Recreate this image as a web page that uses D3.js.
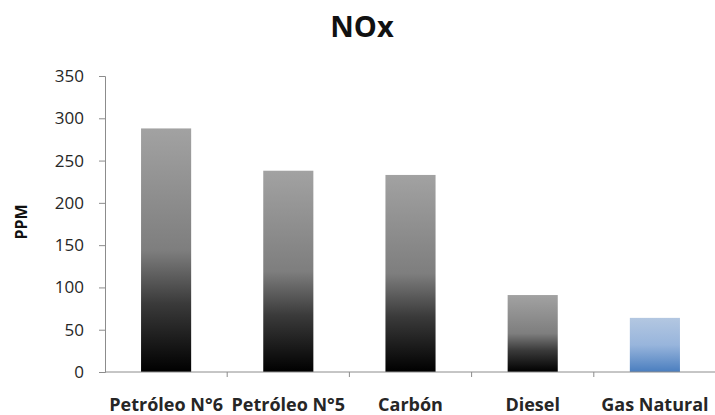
<!DOCTYPE html>
<html>
<head>
<meta charset="utf-8">
<script src="https://cdn.jsdelivr.net/npm/d3@7"></script>
<style>
  html, body { margin: 0; padding: 0; background: #fff; }
  svg { display: block; }
  text { font-family: "Open Sans", Lato, sans-serif; }
</style>
</head>
<body>
<svg id="chart" width="715" height="415"></svg>
<script>
// NOx emissions by fuel type (PPM)
const categories = ["Petróleo N°6", "Petróleo N°5", "Carbón", "Diesel", "Gas Natural"];
const values = [288, 238, 233, 91, 64];
const yTicks = [0, 50, 100, 150, 200, 250, 300, 350];
const chartTitle = "NOx";
const yTitle = "PPM";

const svg = d3.select("#chart");
const margin = { left: 105, right: 0, top: 76, bottom: 43 };
const W = 715, H = 415;

const x = d3.scaleBand().domain(categories).range([margin.left, 716]).paddingInner(0.59).paddingOuter(0.295);
const y = d3.scaleLinear().domain([0, 350]).range([H - margin.bottom, margin.top]);

// Gradients: gray-to-black for the oil/coal/diesel bars, blue for natural gas
const defs = svg.append("defs");
const gGray = defs.append("linearGradient").attr("id", "gray").attr("x1", 0).attr("y1", 0).attr("x2", 0).attr("y2", 1);
[[0, "#a2a2a2"], [0.5, "#7e7e7e"], [0.72, "#3a3a3a"], [1, "#000"]].forEach(([o, c]) =>
  gGray.append("stop").attr("offset", o).attr("stop-color", c));
const gBlue = defs.append("linearGradient").attr("id", "blue").attr("x1", 0).attr("y1", 0).attr("x2", 0).attr("y2", 1);
[[0, "#b3c7e1"], [0.5, "#98b5dc"], [1, "#4a7ebf"]].forEach(([o, c]) =>
  gBlue.append("stop").attr("offset", o).attr("stop-color", c));

// Bars
svg.append("g").selectAll("rect").data(categories).join("rect")
  .attr("x", d => x(d))
  .attr("width", x.bandwidth())
  .attr("y", (d, i) => y(values[i]))
  .attr("height", (d, i) => y(0) - y(values[i]))
  .attr("fill", d => d === "Gas Natural" ? "url(#blue)" : "url(#gray)");

// Y axis
const yAxis = svg.append("g").attr("transform", `translate(${margin.left},0)`)
  .call(d3.axisLeft(y).tickValues(yTicks).tickSize(6).tickPadding(15));
yAxis.select(".domain").attr("stroke", "#8c8c8c");
yAxis.selectAll(".tick line").attr("stroke", "#8c8c8c");
yAxis.selectAll(".tick text").attr("font-size", 17).attr("fill", "#262626");

// X axis with category boundary ticks
const xAxisG = svg.append("g").attr("transform", `translate(0,${y(0)})`);
xAxisG.append("line").attr("x1", margin.left).attr("x2", 716).attr("stroke", "#8c8c8c");
const bounds = categories.map(d => x(d) - x.step() * x.paddingInner() / 2 + x.step());
xAxisG.selectAll("line.t").data(bounds).join("line").attr("class", "t")
  .attr("x1", d => d).attr("x2", d => d).attr("y1", 0).attr("y2", 5).attr("stroke", "#8c8c8c");
xAxisG.selectAll("text").data(categories).join("text")
  .attr("x", d => x(d) + x.bandwidth() / 2)
  .attr("y", 39)
  .attr("text-anchor", "middle")
  .attr("font-size", 18)
  .attr("font-weight", "bold")
  .attr("fill", "#262626")
  .text(d => d);

// Titles
svg.append("text").attr("x", 362).attr("y", 37).attr("text-anchor", "middle")
  .attr("font-size", 29).attr("font-weight", "bold").attr("fill", "#111").text(chartTitle);
svg.append("text").attr("transform", "translate(27,222) rotate(-90)").attr("text-anchor", "middle")
  .attr("font-size", 16).attr("font-weight", "bold").attr("fill", "#111").text(yTitle);
</script>
</body>
</html>
